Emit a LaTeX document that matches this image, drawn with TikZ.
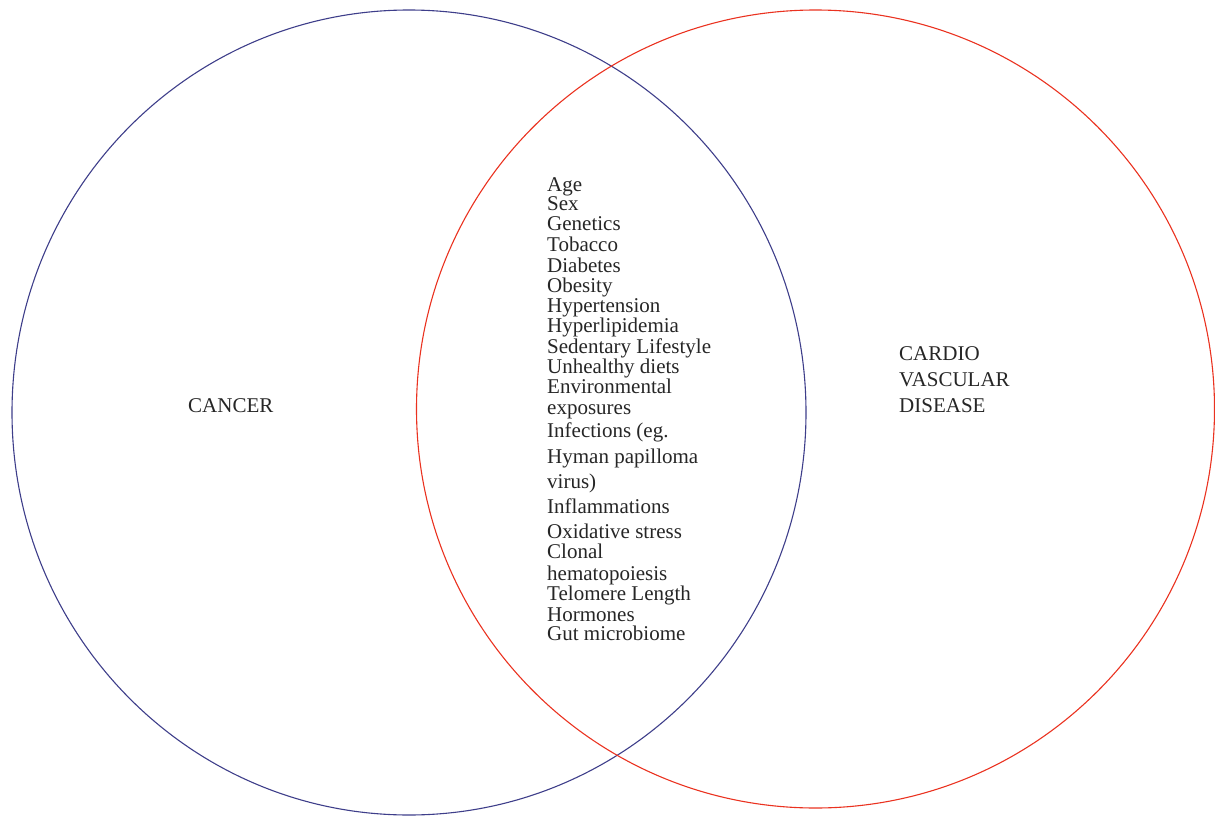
\documentclass[tikz,border=0pt]{standalone}
\usepackage{fontspec}
\setmainfont{Liberation Serif}
\usepackage{tikz}
\usetikzlibrary{positioning}
\definecolor{cancerblue}{RGB}{62,62,138}
\definecolor{cvdred}{RGB}{234,50,32}

\begin{document}
\begin{tikzpicture}[x=1pt,y=-1pt]
			\tikzstyle{Cancer}	= [draw=cancerblue, line width=1.1pt]
			\tikzstyle{CVD}		= [draw=cvdred, line width=1.1pt]
			\tikzstyle{Label}	= [anchor=base west, inner sep=0pt, text=black!85, font=\fontsize{21}{21}\selectfont]
			\tikzstyle{Factor}	= [Label]
			
			\useasboundingbox (0,0) rectangle (1215,816);
			
			\draw [Cancer] (409,412.5) ellipse [x radius=397, y radius=402.5];
			\draw [CVD] (815.5,409) ellipse [x radius=399, y radius=399];
			
			\node (cancer) at (188,412) [Label] {CANCER};
			\node (cardio) at (899,360) [Label] {CARDIO};
			\node (vascular) at (899,386) [Label] {VASCULAR};
			\node (disease) at (899,412) [Label] {DISEASE};
			
			\foreach \y/\t [count=\i] in {191/Age, 210/Sex, 230/Genetics, 251/Tobacco,
				272/Diabetes, 292/Obesity, 312/Hypertension, 332/Hyperlipidemia,
				353/Sedentary Lifestyle, 373/Unhealthy diets, 393/Environmental,
				414/exposures, 437/Infections (eg., 463/Hyman papilloma, 488/virus),
				513/Inflammations, 538/Oxidative stress, 558/Clonal, 580/hematopoiesis,
				600/Telomere Length, 621/Hormones, 640/Gut microbiome}
				\node (f\i) at (547,\y) [Factor] {\t};
		\end{tikzpicture}
\end{document}
